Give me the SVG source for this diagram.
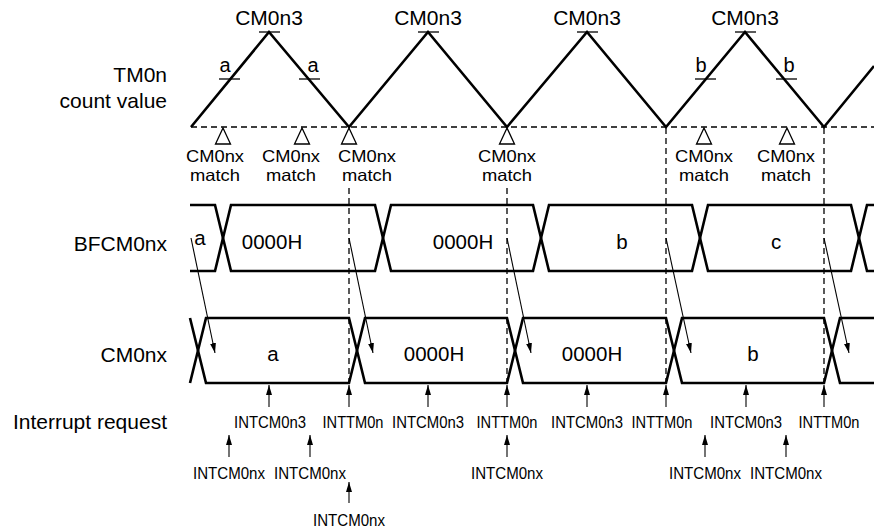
<svg xmlns="http://www.w3.org/2000/svg" width="874" height="532" viewBox="0 0 874 532">
<style>
text{font-family:"Liberation Sans",Arial,Helvetica,sans-serif;fill:#000}
.lbl{font-size:21px;text-anchor:end}
.top{font-size:21px;text-anchor:middle}
.ab{font-size:20px;text-anchor:middle}
.sm{font-size:16.5px;text-anchor:middle}
.bus{font-size:20.5px;text-anchor:middle}
.int{font-size:16.5px;text-anchor:middle}
.wave{fill:none;stroke:#000;stroke-width:2.6;stroke-linejoin:miter}
.tick{stroke:#000;stroke-width:1.3;fill:none}
.dash{stroke:#000;stroke-width:1.3;stroke-dasharray:6 4;fill:none}
.tri{fill:#fff;stroke:#000;stroke-width:1.3}
.arr{stroke:#000;stroke-width:1.1;fill:none;marker-end:url(#ah)}
</style>
<defs>
<marker id="ah" viewBox="0 0 10 6" refX="10" refY="3" markerWidth="10" markerHeight="6" markerUnits="userSpaceOnUse" orient="auto">
<path d="M0,0 L10,3 L0,6 z" fill="#000"/>
</marker>
</defs>
<rect width="874" height="532" fill="#fff"/>

<g id="labels">
<text class="lbl" x="167" y="82">TM0n</text>
<text class="lbl" x="167" y="108">count value</text>
<text class="lbl" x="167" y="251">BFCM0nx</text>
<text class="lbl" x="167" y="362">CM0nx</text>
<text class="lbl" x="167" y="429">Interrupt request</text>
</g>

<g id="connectors">
<line class="dash" x1="191" y1="127" x2="874" y2="127"/>
<line class="dash" x1="349" y1="188" x2="349" y2="384"/>
<line class="dash" x1="507" y1="188" x2="507" y2="384"/>
<line class="dash" x1="666" y1="128" x2="666" y2="384"/>
<line class="dash" x1="824" y1="128" x2="824" y2="384"/>
<line class="arr" x1="191" y1="238" x2="215" y2="353"/>
<line class="arr" x1="349" y1="238" x2="373" y2="353"/>
<line class="arr" x1="507" y1="238" x2="531" y2="353"/>
<line class="arr" x1="666" y1="238" x2="691" y2="353"/>
<line class="arr" x1="824" y1="238" x2="849" y2="353"/>
<line class="arr" x1="269" y1="407" x2="269" y2="385"/>
<line class="arr" x1="349" y1="407" x2="349" y2="385"/>
<line class="arr" x1="428" y1="407" x2="428" y2="385"/>
<line class="arr" x1="507" y1="407" x2="507" y2="385"/>
<line class="arr" x1="587" y1="407" x2="587" y2="385"/>
<line class="arr" x1="666" y1="407" x2="666" y2="385"/>
<line class="arr" x1="746" y1="407" x2="746" y2="385"/>
<line class="arr" x1="824" y1="407" x2="824" y2="385"/>
<line class="arr" x1="229" y1="457" x2="229" y2="435"/>
<line class="arr" x1="310" y1="457" x2="310" y2="435"/>
<line class="arr" x1="507" y1="457" x2="507" y2="435"/>
<line class="arr" x1="705" y1="457" x2="705" y2="435"/>
<line class="arr" x1="786" y1="457" x2="786" y2="435"/>
<line class="arr" x1="349" y1="503" x2="349" y2="482"/>
</g>

<g id="tm0n-count">
<polyline class="wave" points="191,127 269,32 349,127 428,32 507,127 587,32 666,127 745,32 824,127 874,66"/>
<line class="tick" x1="259" y1="32" x2="280" y2="32"/>
<line class="tick" x1="418" y1="32" x2="439" y2="32"/>
<line class="tick" x1="577" y1="32" x2="598" y2="32"/>
<line class="tick" x1="735" y1="32" x2="756" y2="32"/>
<line class="tick" x1="219" y1="79" x2="240" y2="79"/>
<line class="tick" x1="299" y1="79" x2="320" y2="79"/>
<line class="tick" x1="695" y1="79" x2="716" y2="79"/>
<line class="tick" x1="776" y1="79" x2="797" y2="79"/>
<text class="top" x="269" y="25">CM0n3</text>
<text class="top" x="428" y="25">CM0n3</text>
<text class="top" x="587" y="25">CM0n3</text>
<text class="top" x="745" y="25">CM0n3</text>
<text class="ab" x="225" y="72">a</text>
<text class="ab" x="313" y="72">a</text>
<text class="ab" x="701" y="72">b</text>
<text class="ab" x="789" y="72">b</text>
</g>

<g id="matches">
<polygon class="tri" points="223,128 215.5,144 230.5,144"/>
<polygon class="tri" points="302,128 294.5,144 309.5,144"/>
<polygon class="tri" points="349,128 341.5,144 356.5,144"/>
<polygon class="tri" points="507,128 499.5,144 514.5,144"/>
<polygon class="tri" points="704,128 696.5,144 711.5,144"/>
<polygon class="tri" points="787,128 779.5,144 794.5,144"/>
<text class="sm" x="215" y="162" textLength="58" lengthAdjust="spacingAndGlyphs">CM0nx</text><text class="sm" x="215" y="181" textLength="50" lengthAdjust="spacingAndGlyphs">match</text>
<text class="sm" x="291" y="162" textLength="58" lengthAdjust="spacingAndGlyphs">CM0nx</text><text class="sm" x="291" y="181" textLength="50" lengthAdjust="spacingAndGlyphs">match</text>
<text class="sm" x="367" y="162" textLength="58" lengthAdjust="spacingAndGlyphs">CM0nx</text><text class="sm" x="367" y="181" textLength="50" lengthAdjust="spacingAndGlyphs">match</text>
<text class="sm" x="507" y="162" textLength="58" lengthAdjust="spacingAndGlyphs">CM0nx</text><text class="sm" x="507" y="181" textLength="50" lengthAdjust="spacingAndGlyphs">match</text>
<text class="sm" x="704" y="162" textLength="58" lengthAdjust="spacingAndGlyphs">CM0nx</text><text class="sm" x="704" y="181" textLength="50" lengthAdjust="spacingAndGlyphs">match</text>
<text class="sm" x="786" y="162" textLength="58" lengthAdjust="spacingAndGlyphs">CM0nx</text><text class="sm" x="786" y="181" textLength="50" lengthAdjust="spacingAndGlyphs">match</text>
</g>

<g id="bfcm0nx">
<path class="wave" d="M190,205 H215 L231,271 H375 L391,205 H533 L549,271 H692 L708,205 H851 L867,271 H874"/>
<path class="wave" d="M190,271 H215 L231,205 H375 L391,271 H533 L549,205 H692 L708,271 H851 L867,205 H874"/>
<text class="bus" x="200" y="245">a</text>
<text class="bus" x="272" y="249">0000H</text>
<text class="bus" x="463" y="249">0000H</text>
<text class="bus" x="622" y="249">b</text>
<text class="bus" x="776" y="249">c</text>
</g>

<g id="cm0nx">
<path class="wave" d="M190,318 L206,383 H349 L365,318 H507 L523,383 H666 L682,318 H824 L840,383 H874"/>
<path class="wave" d="M190,383 L206,318 H349 L365,383 H507 L523,318 H666 L682,383 H824 L840,318 H874"/>
<text class="bus" x="273" y="361">a</text>
<text class="bus" x="434" y="361">0000H</text>
<text class="bus" x="592" y="361">0000H</text>
<text class="bus" x="753" y="361">b</text>
</g>

<g id="interrupts">
<text class="int" x="270" y="428" textLength="72" lengthAdjust="spacingAndGlyphs">INTCM0n3</text>
<text class="int" x="353" y="428" textLength="61" lengthAdjust="spacingAndGlyphs">INTTM0n</text>
<text class="int" x="428" y="428" textLength="72" lengthAdjust="spacingAndGlyphs">INTCM0n3</text>
<text class="int" x="507" y="428" textLength="61" lengthAdjust="spacingAndGlyphs">INTTM0n</text>
<text class="int" x="587" y="428" textLength="72" lengthAdjust="spacingAndGlyphs">INTCM0n3</text>
<text class="int" x="662" y="428" textLength="61" lengthAdjust="spacingAndGlyphs">INTTM0n</text>
<text class="int" x="746" y="428" textLength="72" lengthAdjust="spacingAndGlyphs">INTCM0n3</text>
<text class="int" x="829" y="428" textLength="61" lengthAdjust="spacingAndGlyphs">INTTM0n</text>
<text class="int" x="229" y="479" textLength="72" lengthAdjust="spacingAndGlyphs">INTCM0nx</text>
<text class="int" x="310" y="479" textLength="72" lengthAdjust="spacingAndGlyphs">INTCM0nx</text>
<text class="int" x="507" y="479" textLength="72" lengthAdjust="spacingAndGlyphs">INTCM0nx</text>
<text class="int" x="705" y="479" textLength="72" lengthAdjust="spacingAndGlyphs">INTCM0nx</text>
<text class="int" x="786" y="479" textLength="72" lengthAdjust="spacingAndGlyphs">INTCM0nx</text>
<text class="int" x="349" y="526" textLength="72" lengthAdjust="spacingAndGlyphs">INTCM0nx</text>
</g>
</svg>
